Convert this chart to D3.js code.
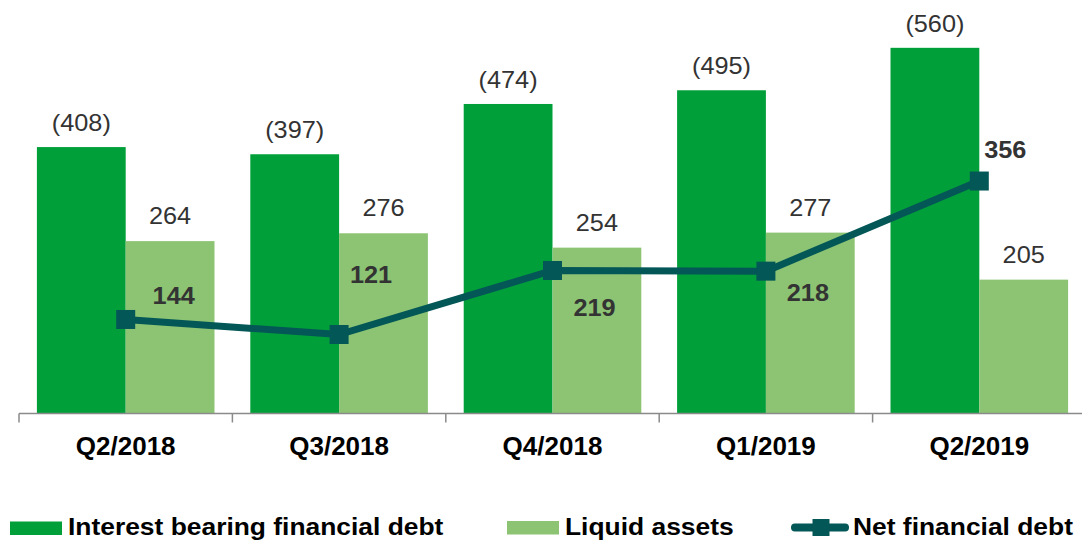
<!DOCTYPE html>
<html>
<head>
<meta charset="utf-8">
<script src="https://cdn.jsdelivr.net/npm/d3@7"></script>
<style>
  body { margin: 0; background: #fff; }
  svg { display: block; font-family: "Liberation Sans", Arial, sans-serif; }
</style>
</head>
<body>
<div id="chart"></div>
<script>
// data
var categories = ['Q2/2018', 'Q3/2018', 'Q4/2018', 'Q1/2019', 'Q2/2019'];
var debt = [408, 397, 474, 495, 560];        // interest bearing financial debt (shown in brackets)
var liquid = [264, 276, 254, 277, 205];      // liquid assets
var netDebt = [144, 121, 219, 218, 356];     // net financial debt
var seriesNames = ['Interest bearing financial debt', 'Liquid assets', 'Net financial debt'];

// where the bold line labels sit, relative to their point
var netLabelShift = [[48, -15], [32, -51], [42, 46], [42, 30], [26, -23]];

var W = 1082, H = 542;
var colDebt = '#009F3A', colLiquid = '#8CC474', colLine = '#045757';

var svg = d3.select('#chart').append('svg')
  .attr('width', W)
  .attr('height', H);

var x = d3.scaleBand()
  .domain(categories)
  .range([19, 19 + 5 * 213.4])
  .paddingInner(0.1678)
  .paddingOuter(0.0839);

var x1 = d3.scaleBand()
  .domain(['debt', 'liquid'])
  .range([0, x.bandwidth()]);

var y = d3.scaleLinear()
  .domain([0, 600])
  .range([413.5, 21.7]);

// text helper, source font is a little wider than Liberation
function label(g, txt, px, py, size, weight, fill, stretch) {
  return g.append('text')
    .attr('transform', 'translate(' + px + ',' + py + ') scale(' + (stretch || 1) + ',1)')
    .attr('text-anchor', 'middle')
    .style('font-size', size + 'px')
    .style('font-weight', weight)
    .style('fill', fill)
    .text(txt);
}

var rows = categories.map(function(c, i) {
  return { cat: c, debt: debt[i], liquid: liquid[i], net: netDebt[i] };
});

// bars
var groups = svg.selectAll('g.cat')
  .data(rows)
  .enter().append('g')
    .attr('class', 'cat')
    .attr('transform', function(d) { return 'translate(' + x(d.cat) + ',0)'; });

groups.append('rect')
  .attr('x', x1('debt'))
  .attr('width', x1.bandwidth())
  .attr('y', function(d) { return y(d.debt); })
  .attr('height', function(d) { return y(0) - y(d.debt); })
  .attr('fill', colDebt);

groups.append('rect')
  .attr('x', x1('liquid'))
  .attr('width', x1.bandwidth())
  .attr('y', function(d) { return y(d.liquid); })
  .attr('height', function(d) { return y(0) - y(d.liquid); })
  .attr('fill', colLiquid);

groups.each(function(d) {
  var g = d3.select(this);
  label(g, '(' + d.debt + ')', x1('debt') + x1.bandwidth() / 2, y(d.debt) - 16, 23, 'normal', '#333', 1.1);
  label(g, d.liquid, x1('liquid') + x1.bandwidth() / 2, y(d.liquid) - 17, 23, 'normal', '#333', 1.1);
});

// axis
var axis = svg.append('g');
axis.append('line')
  .attr('x1', x.range()[0]).attr('x2', x.range()[1])
  .attr('y1', y(0)).attr('y2', y(0))
  .attr('stroke', '#8a8a8a').attr('stroke-width', 1.5);
d3.range(categories.length + 1).forEach(function(i) {
  var tx = x.range()[0] + i * x.step();
  axis.append('line')
    .attr('x1', tx).attr('x2', tx)
    .attr('y1', y(0)).attr('y2', y(0) + 9)
    .attr('stroke', '#8a8a8a').attr('stroke-width', 1.5);
});
categories.forEach(function(c) {
  label(axis, c, x(c) + x.bandwidth() / 2, 455, 25.5, 'bold', '#000', 1.02);
});

// net financial debt line
var cx = function(d) { return x(d.cat) + x.bandwidth() / 2; };
svg.append('path')
  .datum(rows)
  .attr('fill', 'none')
  .attr('stroke', colLine)
  .attr('stroke-width', 7)
  .attr('d', d3.line().x(cx).y(function(d) { return y(d.net); }));

svg.selectAll('rect.marker')
  .data(rows)
  .enter().append('rect')
    .attr('class', 'marker')
    .attr('x', function(d) { return cx(d) - 9.5; })
    .attr('y', function(d) { return y(d.net) - 9.5; })
    .attr('width', 19).attr('height', 19)
    .attr('fill', colLine);

rows.forEach(function(d, i) {
  label(svg, d.net, cx(d) + netLabelShift[i][0], y(d.net) + netLabelShift[i][1], 23, 'bold', '#333', 1.1);
});

// legend
var leg = svg.append('g');
leg.append('rect').attr('x', 10).attr('y', 521.5).attr('width', 52).attr('height', 13.5).attr('fill', colDebt);
leg.append('rect').attr('x', 507).attr('y', 521).attr('width', 52).attr('height', 13.5).attr('fill', colLiquid);
leg.append('line')
  .attr('x1', 795).attr('x2', 845).attr('y1', 527.5).attr('y2', 527.5)
  .attr('stroke', colLine).attr('stroke-width', 8).attr('stroke-linecap', 'round');
leg.append('rect').attr('x', 812.5).attr('y', 519).attr('width', 17).attr('height', 17).attr('fill', colLine);

[[68, seriesNames[0]], [565, seriesNames[1]], [853, seriesNames[2]]].forEach(function(l) {
  label(leg, l[1], l[0], 535, 24, 'bold', '#000', 1.1).attr('text-anchor', 'start');
});
</script>
</body>
</html>
